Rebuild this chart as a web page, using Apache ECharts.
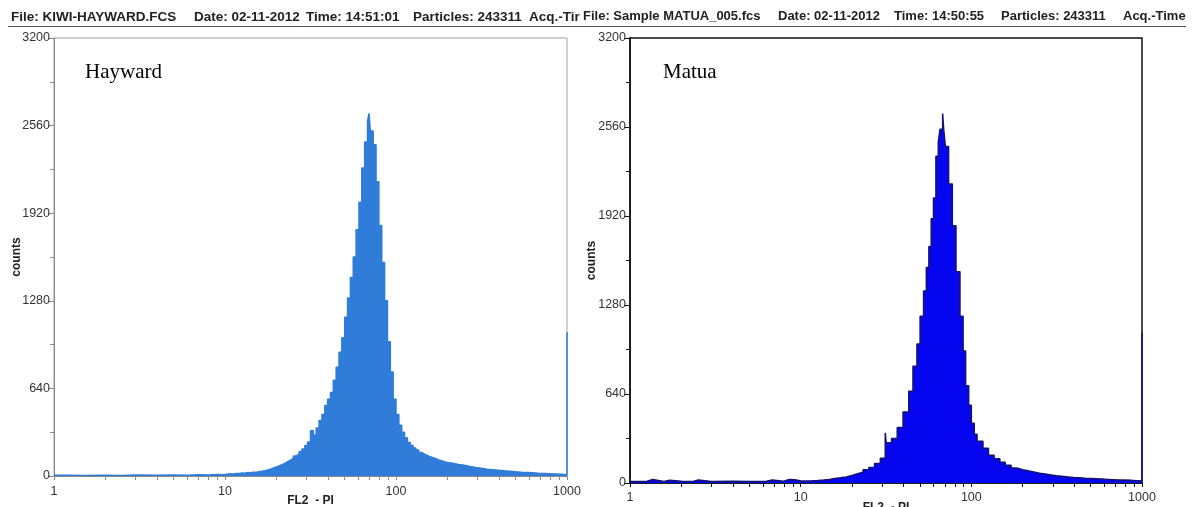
<!DOCTYPE html>
<html>
<head>
<meta charset="utf-8">
<script src="https://cdn.jsdelivr.net/npm/echarts@6/dist/echarts.min.js"></script>
<style>
  html, body { margin: 0; padding: 0; background: #fff; }
  #chart { width: 1193px; height: 507px; }
</style>
</head>
<body>
<div id="chart"></div>
<script>
// FL2 - PI channels (left bin edges) and counts
const haywardFL2 = [1, 1.2, 1.5, 2, 2.5, 3, 4, 5, 6, 7, 8, 9,
  10, 10.39, 10.8, 11.22, 11.66, 12.12, 12.59, 13.08, 13.59, 14.13, 14.68, 15.25, 15.85, 16.47, 17.11, 17.78,
  18.48, 19.2, 19.95, 20.73, 21.54, 22.39, 23.26, 24.17, 25.12, 26.1, 27.12, 28.18, 29.29, 30.43, 31.62, 32.86,
  34.15, 35.48, 36.87, 38.31, 39.81, 41.37, 42.99, 44.67, 46.42, 48.23, 50.12, 52.08, 54.12, 56.23, 58.43, 60.72,
  63.1, 65.57, 68.13, 69.5, 70.79, 73.56, 76.44, 79.43, 82.54, 85.77, 89.13, 92.62, 96.24,
  100, 103.9, 108, 112.2, 116.6, 121.2, 125.9, 130.8, 135.9, 141.3, 146.8, 152.5, 158.5, 164.7, 171.1, 177.8,
  184.8, 192, 199.5, 215, 232, 251, 271, 293, 316, 341, 369, 398, 430, 464, 501, 541, 584, 631, 681, 736, 794,
  858, 926, 1000];
const haywardCounts = [5, 3, 6, 4, 7, 5, 8, 6, 9, 8, 11, 10,
  14, 16, 15, 19, 18, 22, 21, 25, 24, 28, 27, 31, 35, 38, 44, 50,
  58, 66, 74, 82, 92, 104, 116, 130, 146, 160, 178, 198, 222, 248, 330, 300,
  350, 405, 450, 515, 560, 610, 700, 795, 905, 1010, 1160, 1300, 1450, 1600, 1800, 2000,
  2250, 2440, 2590, 2650, 2520, 2420, 2150, 1830, 1560, 1280, 980, 760, 560,
  450, 370, 320, 280, 245, 222, 205, 190, 172, 160, 150, 140, 134, 126, 118, 112,
  104, 98, 93, 85, 78, 70, 63, 57, 50, 46, 42, 38, 35, 31, 28, 26, 24, 21, 19, 16, 14,
  12, 10, 1050];

const matuaFL2 = [1, 1.17, 1.26, 1.36, 1.58, 1.71, 2, 2.32, 2.51, 3, 4, 5, 6.31, 6.81, 7.94, 8.58, 9.26,
  10, 10.8, 11.7, 12.6, 13.6, 14.7, 15.8, 17.1, 18.5, 20, 21.5, 23.2, 25.1, 27.1, 29.3, 31.3, 31.7,
  34.1, 36.8, 39.8, 43, 45.5, 48, 50.1, 52.5, 54.5, 56.4, 58.2, 60, 62, 64, 65.5, 67.9, 68.8,
  70.5, 73.6, 77.4, 81.3, 85.8, 89.5, 92.6, 96.5, 100, 104, 108, 117, 126, 136, 147, 158, 171, 185,
  200, 215, 232, 251, 271, 293, 316, 341, 369, 398, 430, 464, 501, 541, 584, 631, 681, 736, 794, 858, 926, 1000];
const matuaCounts = [10, 12, 25, 11, 20, 12, 10, 22, 11, 12, 10, 12, 22, 13, 25, 24, 14,
  15, 16, 18, 21, 26, 33, 37, 44, 55, 66, 78, 95, 112, 140, 178, 360, 290,
  320, 400, 510, 660, 840, 1000, 1200, 1380, 1550, 1700, 1900, 2050, 2350, 2450, 2544, 2657, 2550,
  2420, 2150, 1850, 1520, 1200, 950, 700, 560, 430, 350, 300, 250, 200, 175, 150, 128, 108, 96,
  88, 80, 70, 64, 58, 52, 48, 44, 40, 37, 34, 32, 30, 28, 26, 24, 22, 21, 19, 17, 16, 1080];

const xTicks = [1, 2, 3, 4, 5, 6, 7, 8, 9, 10, 20, 30, 40, 50, 60, 70, 80, 90,
  100, 200, 300, 400, 500, 600, 700, 800, 900, 1000];
const xLabels = [1, 10, 100, 1000];

// header fields of each acquisition, with their start x
const headLeft = ['File: KIWI-HAYWARD.FCS', 'Date: 02-11-2012', 'Time: 14:51:01', 'Particles: 243311', 'Acq.-Tir'];
const headLeftX = [11, 194, 306, 413, 529];
const headRight = ['File: Sample MATUA_005.fcs', 'Date: 02-11-2012', 'Time: 14:50:55', 'Particles: 243311', 'Acq.-Time'];
const headRightX = [583, 778, 894, 1001, 1123];

const myChart = echarts.init(document.getElementById('chart'));
const font = '"Liberation Sans", Arial, sans-serif';

function pairs(xs, ys) {
  return xs.map((x, i) => [x, ys[i]]);
}

function xAxisFor(idx, lineColor, lineWidth, labelMargin) {
  return {
    type: 'log',
    logBase: 10,
    gridIndex: idx,
    min: 1,
    max: 1000,
    name: 'FL2  - PI',
    nameLocation: 'middle',
    nameGap: 19,
    nameMoveOverlap: false,
    nameTextStyle: { fontFamily: font, fontWeight: 'bold', fontSize: 12, color: '#222' },
    axisLine: { lineStyle: { color: lineColor, width: lineWidth } },
    axisTick: { customValues: xTicks, length: 4, lineStyle: { color: lineColor } },
    axisLabel: {
      customValues: xLabels, fontFamily: font, fontSize: 12.5, color: '#333', margin: labelMargin,
      formatter: v => String(v)
    },
    splitLine: { show: false }
  };
}

function yAxisFor(idx, lineColor, lineWidth, gap) {
  return {
    type: 'value',
    gridIndex: idx,
    min: 0,
    max: 3200,
    interval: 640,
    name: 'counts',
    nameLocation: 'middle',
    nameGap: gap,
    nameMoveOverlap: false,
    nameTextStyle: { fontFamily: font, fontWeight: 'bold', fontSize: 12, color: '#222' },
    axisLine: { show: true, lineStyle: { color: lineColor, width: lineWidth } },
    axisTick: { show: true, length: 6, lineStyle: { color: lineColor } },
    minorTick: { show: true, splitNumber: 2, length: 4, lineStyle: { color: lineColor } },
    axisLabel: { fontFamily: font, fontSize: 12.5, color: '#333', margin: 4, formatter: v => String(v) },
    splitLine: { show: false }
  };
}

const headerText = [];
headLeft.forEach((t, i) => headerText.push({
  type: 'text', left: headLeftX[i], top: 10,
  style: { text: t, font: 'bold 13.5px ' + font, fill: '#222' }
}));
headRight.forEach((t, i) => headerText.push({
  type: 'text', left: headRightX[i], top: 10,
  style: { text: t, font: 'bold 13px ' + font, fill: '#222' }
}));

const option = {
  backgroundColor: '#fff',
  animation: false,
  grid: [
    { left: 54, right: 626, top: 38, bottom: 31, outerBoundsMode: 'none',
      show: true, borderColor: '#a99aa8', borderWidth: 1 },
    { left: 630, right: 51, top: 38, bottom: 24, outerBoundsMode: 'none',
      show: true, borderColor: '#111', borderWidth: 1.5 }
  ],
  xAxis: [xAxisFor(0, '#8a8a8a', 1, 9), xAxisFor(1, '#111', 1.5, 8)],
  yAxis: [yAxisFor(0, '#8a8a8a', 1, 31), yAxisFor(1, '#111', 1.5, 32)],
  graphic: headerText.concat([
    {
      type: 'line',
      shape: { x1: 8, y1: 26.5, x2: 1186, y2: 26.5 },
      style: { stroke: '#555', lineWidth: 1 }
    },
    {
      type: 'text', left: 85, top: 62,
      style: { text: 'Hayward', font: '21px "Liberation Serif", "Times New Roman", serif', fill: '#000' }
    },
    {
      type: 'text', left: 663, top: 62,
      style: { text: 'Matua', font: '21px "Liberation Serif", "Times New Roman", serif', fill: '#000' }
    }
  ]),
  series: [
    {
      name: 'Hayward',
      type: 'line',
      xAxisIndex: 0,
      yAxisIndex: 0,
      step: 'end',
      symbol: 'none',
      lineStyle: { color: '#2f7dd8', width: 1.5 },
      areaStyle: { color: '#2f7dd8', opacity: 1 },
      data: pairs(haywardFL2, haywardCounts)
    },
    {
      name: 'Matua',
      type: 'line',
      xAxisIndex: 1,
      yAxisIndex: 1,
      step: 'end',
      symbol: 'none',
      lineStyle: { color: '#14146e', width: 1.5 },
      areaStyle: { color: '#0505f0', opacity: 1 },
      data: pairs(matuaFL2, matuaCounts)
    }
  ]
};

myChart.setOption(option);
window.addEventListener('resize', myChart.resize);
</script>
</body>
</html>
